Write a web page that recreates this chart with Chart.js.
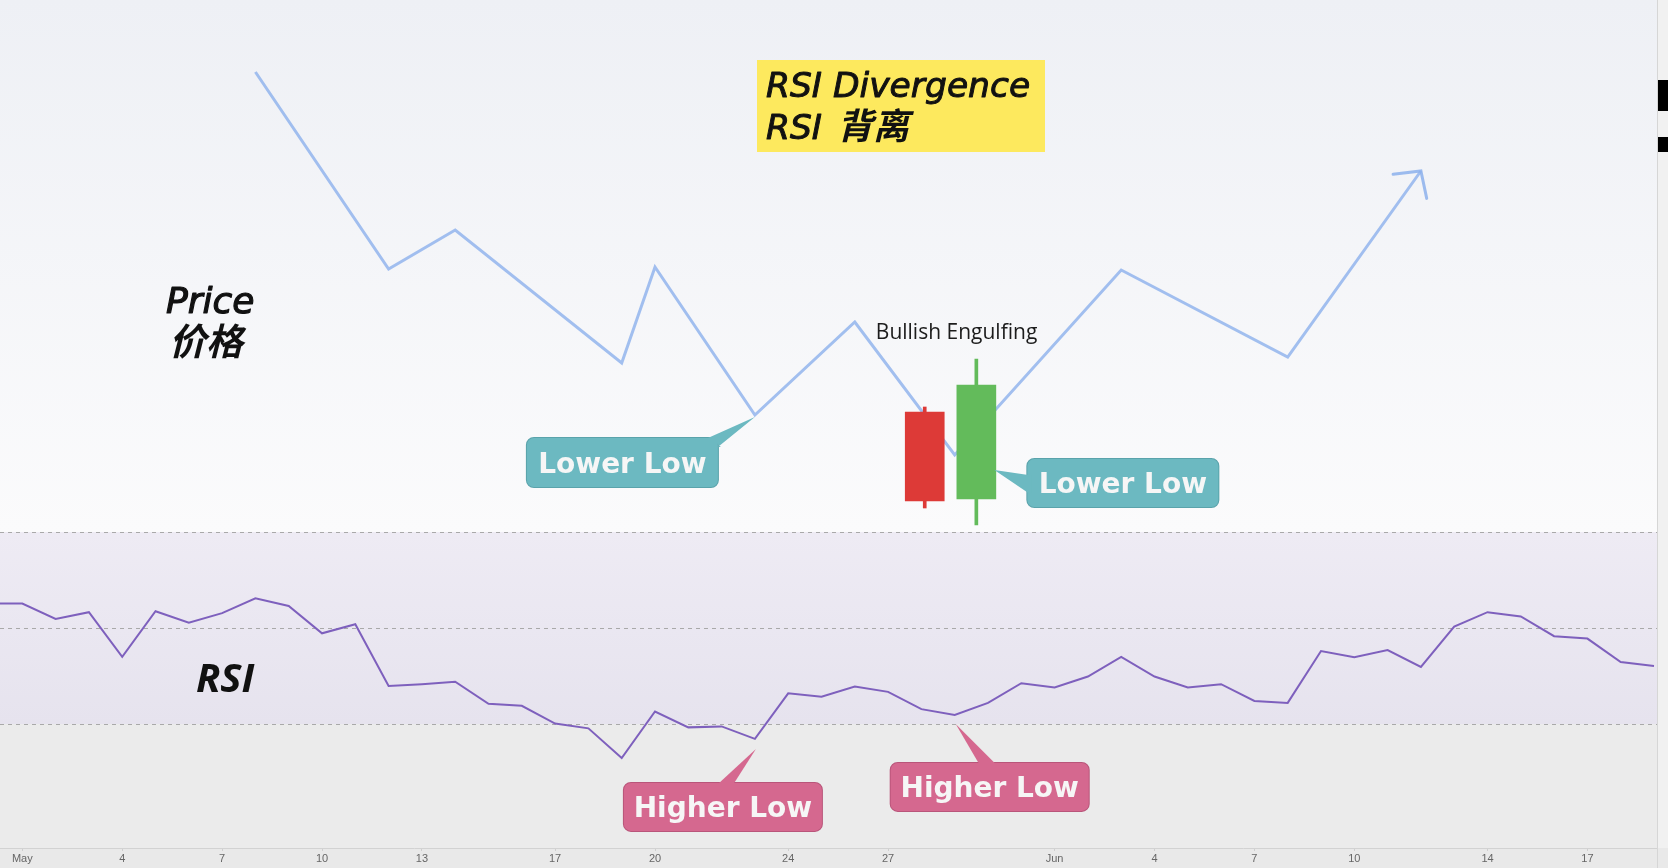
<!DOCTYPE html>
<html>
<head>
<meta charset="utf-8">
<script src="https://cdn.jsdelivr.net/npm/chart.js@4.4.1/dist/chart.umd.min.js"></script>
<style>
html, body { margin: 0; padding: 0; background: #fff; }
#wrap { width: 1668px; height: 868px; position: relative; }
</style>
</head>
<body>
<div id="wrap"><canvas id="myChart"></canvas></div>
<script>
// day index on the x axis: 0 = May 1, 31 = Jun 1
const rsiDays = [-1,0,1,2,3,4,5,6,7,8,9,10,11,12,13,14,15,16,17,18,19,20,21,22,23,24,
                 25,26,27,28,29,30,31,32,33,34,35,36,37,38,39,40,41,42,43,44,45,46,47,48,49];
const rsiValues = [55.1,55.1,51.9,53.3,44.0,53.5,51.1,53.1,56.2,54.6,48.9,50.8,37.9,38.3,38.8,34.2,33.8,30.1,29.1,22.9,32.6,
                   29.3,29.5,26.9,36.4,35.7,37.8,36.7,33.1,31.9,34.4,38.5,37.6,39.9,44.0,39.9,37.6,38.3,34.8,34.4,45.2,
                   43.9,45.4,41.9,50.3,53.3,52.4,48.3,47.8,42.9,42.1];
const rsiLevels = [70, 50, 30];

// schematic price path (relative price units)
const priceDays = [7, 11, 13, 18, 19, 22, 25, 28, 33, 38, 42];
const priceValues = [776, 579, 618, 485, 581, 433, 526, 393, 578, 491, 677];

// the two candles of the engulfing pattern
const candleDays = [27.1, 28.65];
const candleOpen = [436, 349];
const candleClose = [347, 463];
const candleHigh = [441, 489];
const candleLow = [340, 323];

const tickDays = [0, 3, 6, 9, 12, 16, 19, 23, 26, 31, 34, 37, 40, 44, 47];
const tickLabels = ['May','4','7','10','13','17','20','24','27','Jun','4','7','10','14','17'];

const up = '#63bb5b', down = '#dd3a37';

function pt(chart, dsIndex, i) {
  const el = chart.getDatasetMeta(dsIndex).data[i];
  return [el.x, el.y];
}

// callouts: anchor point, tip / box / pointer base are offsets from the anchor in px
const callouts = [
  { text: 'Lower Low', fill: '#6cb9c1', edge: '#5aa3ab', anchor: c => pt(c, 0, 5),
    tip: [0, 2], box: [-228, 23, 191, 49], base: [[-47, 23], [-37, 32]] },
  { text: 'Lower Low', fill: '#6cb9c1', edge: '#5aa3ab',
    anchor: c => [c.scales.x.getPixelForValue(candleDays[1]), c.scales.yPrice.getPixelForValue(candleOpen[1])],
    tip: [18, -29], box: [51, -40, 191, 48], base: [[52, -24], [52, -6]] },
  { text: 'Higher Low', fill: '#d5688f', edge: '#b9557a', anchor: c => pt(c, 1, rsiDays.indexOf(22)),
    tip: [1, 10], box: [-131, 44, 198, 48], base: [[-38, 44], [-22, 44]] },
  { text: 'Higher Low', fill: '#d5688f', edge: '#b9557a', anchor: c => pt(c, 1, rsiDays.indexOf(28)),
    tip: [1, 9], box: [-64, 48, 198, 48], base: [[25, 48], [42, 48]] }
];

function roundRect(ctx, x, y, w, h, r) {
  ctx.beginPath();
  ctx.moveTo(x + r, y);
  ctx.arcTo(x + w, y, x + w, y + h, r);
  ctx.arcTo(x + w, y + h, x, y + h, r);
  ctx.arcTo(x, y + h, x, y, r);
  ctx.arcTo(x, y, x + w, y, r);
  ctx.closePath();
}

// filled text with a thin outline to get a medium weight
function heavyText(ctx, text, x, y, lw) {
  ctx.lineWidth = lw;
  ctx.strokeStyle = ctx.fillStyle;
  ctx.lineJoin = 'round';
  ctx.strokeText(text, x, y);
  ctx.fillText(text, x, y);
}

const backdrop = {
  id: 'backdrop',
  beforeDraw(chart) {
    const { ctx, width, height, chartArea: { left, right, top, bottom } } = chart;
    const yR = chart.scales.yRsi;
    const y70 = yR.getPixelForValue(70), y30 = yR.getPixelForValue(30);
    ctx.save();
    const g = ctx.createLinearGradient(0, top, 0, y70);
    g.addColorStop(0, '#eef0f5');
    g.addColorStop(1, '#fbfbfc');
    ctx.fillStyle = g;
    ctx.fillRect(0, 0, width, y70);
    const g2 = ctx.createLinearGradient(0, y70, 0, y30);
    g2.addColorStop(0, '#eeebf4');
    g2.addColorStop(1, '#e6e3ee');
    ctx.fillStyle = g2;
    ctx.fillRect(0, y70, width, y30 - y70);
    ctx.fillStyle = '#ebebeb';
    ctx.fillRect(0, y30, width, bottom - y30);
    ctx.fillStyle = '#e9e9e9';
    ctx.fillRect(0, bottom, width, height - bottom);

    // dashed RSI levels
    ctx.strokeStyle = '#a9a9a9';
    ctx.lineWidth = 1;
    ctx.setLineDash([4, 4]);
    rsiLevels.forEach(v => {
      const y = Math.round(yR.getPixelForValue(v)) + 0.5;
      ctx.beginPath();
      ctx.moveTo(left, y);
      ctx.lineTo(right, y);
      ctx.stroke();
    });
    ctx.restore();
  }
};

const notes = {
  id: 'notes',
  afterDatasetsDraw(chart) {
    const { ctx, width, height, chartArea: { right, bottom } } = chart;
    ctx.save();

    // arrow head at the end of the price path
    const pm = chart.getDatasetMeta(0).data;
    const a = pm[pm.length - 2], b = pm[pm.length - 1];
    const ang = Math.atan2(a.y - b.y, a.x - b.x);
    ctx.strokeStyle = 'rgba(140,176,236,0.85)';
    ctx.lineWidth = 3;
    ctx.lineCap = 'round';
    ctx.beginPath();
    ctx.moveTo(b.x + 28 * Math.cos(ang + 0.83), b.y + 28 * Math.sin(ang + 0.83));
    ctx.lineTo(b.x, b.y);
    ctx.lineTo(b.x + 28 * Math.cos(ang - 0.83), b.y + 28 * Math.sin(ang - 0.83));
    ctx.stroke();

    // callouts
    callouts.forEach(c => {
      const [ax, ay] = c.anchor(chart);
      const [bx, by, bw, bh] = c.box;
      ctx.lineWidth = 2;
      ctx.strokeStyle = c.edge;
      roundRect(ctx, ax + bx, ay + by, bw, bh, 7);
      ctx.stroke();
      ctx.fillStyle = c.fill;
      ctx.fill();
      const flat = c.base[0][1] === c.base[1][1];
      ctx.beginPath();
      ctx.moveTo(ax + c.base[0][0], ay + c.base[0][1] + (flat ? 2 : 0));
      ctx.lineTo(ax + c.tip[0], ay + c.tip[1]);
      ctx.lineTo(ax + c.base[1][0], ay + c.base[1][1] + (flat ? 2 : 0));
      if (!flat) {
        ctx.lineTo(ax + c.base[1][0] + 3, ay + c.base[1][1]);
        ctx.lineTo(ax + c.base[0][0] + 3, ay + c.base[0][1]);
      }
      ctx.closePath();
      ctx.fill();
      ctx.fillStyle = '#f6f6f6';
      ctx.font = 'bold 28px "DejaVu Sans"';
      ctx.textAlign = 'center';
      ctx.textBaseline = 'alphabetic';
      ctx.fillText(c.text, ax + bx + bw / 2, ay + by + bh / 2 + 10);
    });

    // candle label
    const xs = chart.scales.x, yp = chart.scales.yPrice;
    ctx.fillStyle = '#1c1c1c';
    ctx.font = '21px "Open Sans"';
    ctx.textAlign = 'center';
    ctx.fillText('Bullish Engulfing',
      (xs.getPixelForValue(candleDays[0]) + xs.getPixelForValue(candleDays[1])) / 2 + 6,
      yp.getPixelForValue(candleHigh[1]) - 20);

    // title box
    ctx.fillStyle = '#fde95e';
    ctx.fillRect(757, 60, 288, 92);
    ctx.fillStyle = '#111';
    ctx.textAlign = 'left';
    ctx.font = 'italic 34.5px "DejaVu Sans"';
    heavyText(ctx, 'RSI Divergence', 766, 97, 1);
    heavyText(ctx, 'RSI ', 766, 139, 1);
    const w = ctx.measureText('RSI ').width;
    ctx.font = 'bold italic 36px "Noto Sans CJK SC"';
    ctx.fillText('背离', 766 + w + 4, 139);

    // pane labels
    ctx.font = 'italic 36px "DejaVu Sans"';
    heavyText(ctx, 'Price', 166, 313, 1.2);
    ctx.font = 'bold italic 37px "Noto Sans CJK SC"';
    ctx.fillText('价格', 169, 355);
    ctx.font = 'bold italic 40px "Open Sans"';
    ctx.fillText('RSI', 196, 692);

    // right price scale strip
    ctx.fillStyle = '#f1f1f1';
    ctx.fillRect(right, 0, width - right, bottom);
    ctx.fillStyle = '#d6d6d6';
    ctx.fillRect(right, 0, 1, height);
    ctx.fillStyle = '#000';
    ctx.fillRect(right + 1, 80, width - right, 31);
    ctx.fillRect(right + 1, 137, width - right, 15);
    ctx.restore();
  }
};

const ctx = document.getElementById('myChart').getContext('2d');
const myChart = new Chart(ctx, {
  type: 'line',
  data: {
    datasets: [
      {
        label: 'Price',
        data: priceDays.map((d, i) => ({ x: d, y: priceValues[i] })),
        yAxisID: 'yPrice',
        borderColor: 'rgba(140,176,236,0.8)',
        borderWidth: 3,
        pointRadius: 0,
        tension: 0,
        order: 2
      },
      {
        label: 'RSI',
        data: rsiDays.map((d, i) => ({ x: d, y: rsiValues[i] })),
        yAxisID: 'yRsi',
        borderColor: '#7e60bd',
        borderWidth: 2,
        pointRadius: 0,
        tension: 0,
        order: 2
      },
      {
        type: 'bar',
        label: 'wick',
        data: candleDays.map((d, i) => ({ x: d, y: [candleLow[i], candleHigh[i]] })),
        yAxisID: 'yPrice',
        backgroundColor: candleDays.map((d, i) => candleClose[i] > candleOpen[i] ? up : down),
        barThickness: 3,
        grouped: false,
        order: 1
      },
      {
        type: 'bar',
        label: 'body',
        data: candleDays.map((d, i) => ({ x: d, y: [candleOpen[i], candleClose[i]] })),
        yAxisID: 'yPrice',
        backgroundColor: candleDays.map((d, i) => candleClose[i] > candleOpen[i] ? up : down),
        barThickness: 39,
        grouped: false,
        order: 0
      }
    ]
  },
  options: {
    responsive: true,
    maintainAspectRatio: false,
    animation: false,
    layout: { padding: { left: 0, right: 11, top: 0, bottom: 0 } },
    plugins: {
      legend: { display: false },
      tooltip: { enabled: false }
    },
    scales: {
      x: {
        type: 'linear',
        offset: false,
        min: -0.67,
        max: 49.09,
        afterBuildTicks: scale => { scale.ticks = tickDays.map(v => ({ value: v })); },
        afterFit: scale => { scale.height = 20; },
        ticks: {
          autoSkip: false,
          maxRotation: 0,
          padding: 1,
          color: '#666',
          font: { family: 'Liberation Sans', size: 11 },
          callback: (v, i) => tickLabels[i]
        },
        grid: { offset: false, drawOnChartArea: false, drawTicks: true, tickLength: 3, color: '#cfcfcf' },
        border: { color: '#d2d2d2' }
      },
      yPrice: {
        type: 'linear',
        display: false,
        min: 0,
        max: 848
      },
      yRsi: {
        type: 'linear',
        display: false,
        min: 4.17,
        max: 180.83
      }
    }
  },
  plugins: [backdrop, notes]
});
</script>
</body>
</html>
